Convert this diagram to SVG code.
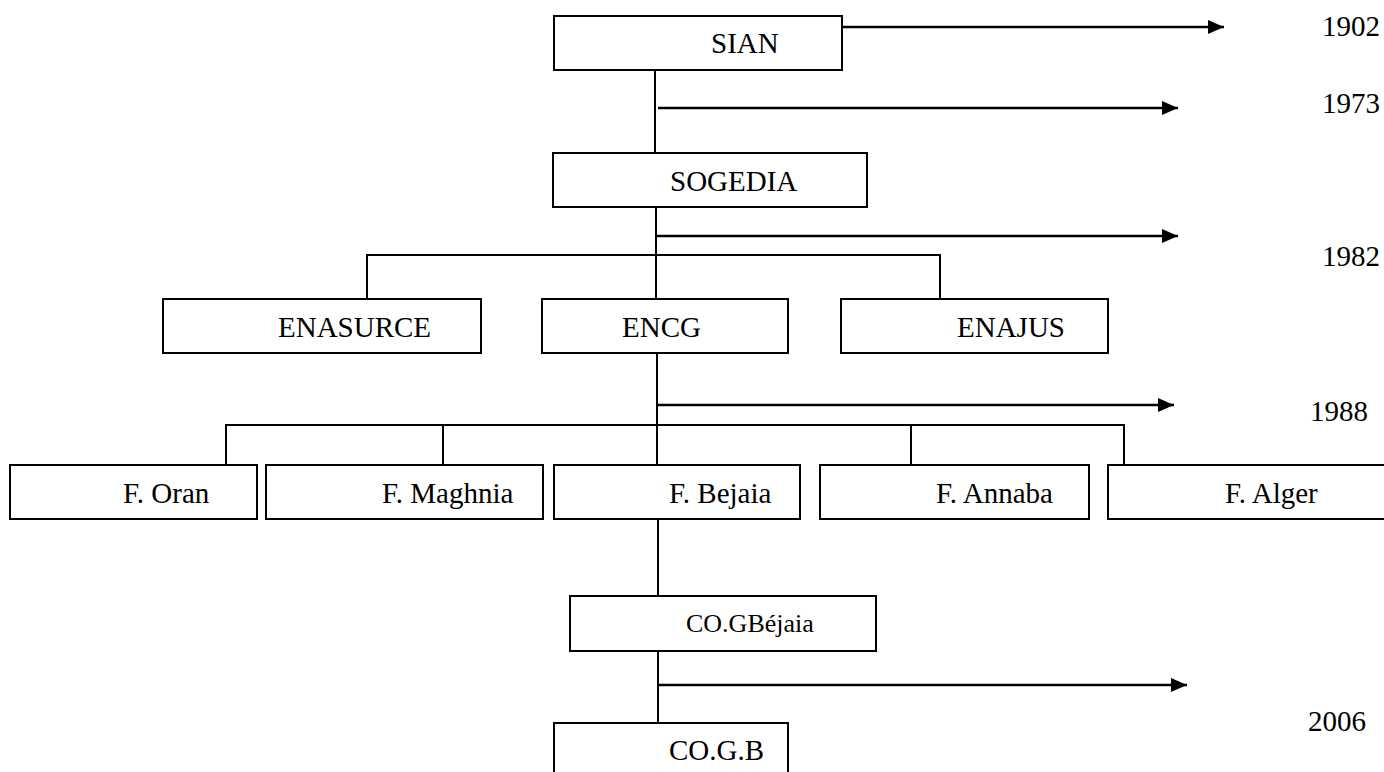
<svg xmlns="http://www.w3.org/2000/svg" width="1384" height="772" viewBox="0 0 1384 772">
<style>
.box{fill:#fff;stroke:#000;stroke-width:2}
.t{font-family:"Liberation Serif","Times New Roman",serif;font-size:29px;fill:#000}
.s{font-size:26px}
.ln{fill:none;stroke:#000;stroke-width:2}
.ar{fill:none;stroke:#000;stroke-width:2.5;marker-end:url(#ah)}
</style>
<defs>
<marker id="ah" markerUnits="userSpaceOnUse" markerWidth="16" markerHeight="14" refX="16" refY="7" orient="auto">
<path d="M0,0 L16,7 L0,14 z" fill="#000"/>
</marker>
</defs>
<g id="connectors">
<path class="ln" d="M655,70 V153"/>
<path class="ln" d="M656,207 V299"/>
<path class="ln" d="M367,299 V255 H940 V299"/>
<path class="ln" d="M657,353 V465"/>
<path class="ln" d="M226,465 V425 H1124 V465"/>
<path class="ln" d="M443,425 V465"/>
<path class="ln" d="M911,425 V465"/>
<path class="ln" d="M658,519 V596"/>
<path class="ln" d="M658,651 V723"/>
<path class="ar" d="M842,27 H1224"/>
<path class="ar" d="M658,108 H1178"/>
<path class="ar" d="M656,236 H1178"/>
<path class="ar" d="M656,405 H1174"/>
<path class="ar" d="M658,685 H1187"/>
</g>
<g id="years">
<text class="t" x="1322" y="36">1902</text>
<text class="t" x="1322" y="113">1973</text>
<text class="t" x="1322" y="266">1982</text>
<text class="t" x="1310" y="421">1988</text>
<text class="t" x="1308" y="731">2006</text>
</g>
<g id="sian"><rect class="box" x="554" y="16" width="288" height="54"/><text class="t" x="711" y="53">SIAN</text></g>
<g id="sogedia"><rect class="box" x="553" y="153" width="314" height="54"/><text class="t" x="670" y="191">SOGEDIA</text></g>
<g id="enasurce"><rect class="box" x="163" y="299" width="318" height="54"/><text class="t" x="278" y="337">ENASURCE</text></g>
<g id="encg"><rect class="box" x="542" y="299" width="246" height="54"/><text class="t" x="622" y="337">ENCG</text></g>
<g id="enajus"><rect class="box" x="841" y="299" width="267" height="54"/><text class="t" x="957" y="337">ENAJUS</text></g>
<g id="f-oran"><rect class="box" x="10" y="465" width="247" height="54"/><text class="t" x="123" y="503">F. Oran</text></g>
<g id="f-maghnia"><rect class="box" x="266" y="465" width="277" height="54"/><text class="t" x="382" y="503">F. Maghnia</text></g>
<g id="f-bejaia"><rect class="box" x="554" y="465" width="246" height="54"/><text class="t" x="669" y="503">F. Bejaia</text></g>
<g id="f-annaba"><rect class="box" x="820" y="465" width="269" height="54"/><text class="t" x="936" y="503">F. Annaba</text></g>
<g id="f-alger"><rect class="box" x="1108" y="465" width="290" height="54"/><text class="t" x="1225" y="503">F. Alger</text></g>
<g id="cogbejaia"><rect class="box" x="570" y="596" width="306" height="55"/><text class="t s" x="686" y="632">CO.GBéjaia</text></g>
<g id="cogb"><rect class="box" x="554" y="723" width="234" height="70"/><text class="t" x="669" y="760">CO.G.B</text></g>
</svg>
